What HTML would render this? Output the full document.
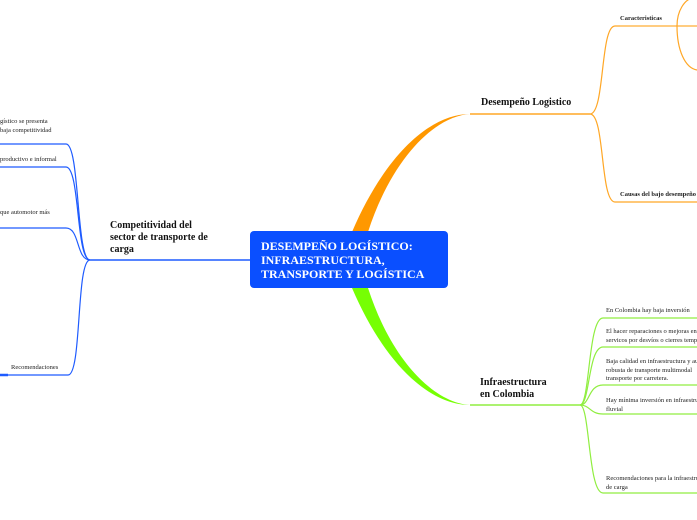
<!DOCTYPE html>
<html><head><meta charset="utf-8"><style>
html,body{margin:0;padding:0;background:#fff;width:697px;height:520px;overflow:hidden;position:relative;font-family:"Liberation Serif",serif;}
svg{position:absolute;left:0;top:0}
.t{position:absolute;font-size:6.5px;color:#222;line-height:8.5px;white-space:nowrap}
.b{position:absolute;font-weight:bold;color:#111;font-size:10px;line-height:12px}
</style></head><body>
<svg width="697" height="520" viewBox="0 0 697 520" fill="none">
<!-- orange -->
<path d="M352 232 C 385 155, 430 114, 470 114 C 435 116, 392 158, 368 232 Z" fill="#ff9800"/>
<path d="M470 114 L 590 114" stroke="#ffa726" stroke-width="1.5"/>
<path d="M590 114 C 605 114, 600 26, 615 26 L 697 26" stroke="#ffa726" stroke-width="1.2"/>
<path d="M590 114 C 605 114, 600 202, 615 202 L 697 202" stroke="#ffa726" stroke-width="1.2"/>
<path d="M620 26 L 697 26" stroke="#ffcc80" stroke-width="2"/>
<path d="M677 26 C 677 10, 685 0, 692 -2" stroke="#ffa726" stroke-width="1.2"/>
<path d="M677 26 C 677 50, 685 68, 697 70" stroke="#ffa726" stroke-width="1.2"/>
<!-- green -->
<path d="M352 288 C 385 365, 430 405, 470 405 C 435 403, 392 362, 368 288 Z" fill="#76ff03"/>
<path d="M470 405 L 580 405" stroke="#90ee40" stroke-width="1.5"/>
<path d="M580 405 C 590 405, 588 318, 603 318 L 697 318" stroke="#90ee40" stroke-width="1.2"/>
<path d="M580 405 C 590 405, 588 347, 603 347 L 697 347" stroke="#90ee40" stroke-width="1.2"/>
<path d="M580 405 C 590 405, 588 385, 603 385 L 697 385" stroke="#90ee40" stroke-width="1.2"/>
<path d="M580 405 C 590 405, 590 414, 603 414 L 697 414" stroke="#90ee40" stroke-width="1.2"/>
<path d="M580 405 C 590 405, 588 493, 603 493 L 697 493" stroke="#90ee40" stroke-width="1.2"/>
<!-- blue -->
<path d="M250 260 L 90 260" stroke="#1e5bff" stroke-width="1.5"/>
<path d="M90 260 C 76 260, 80 144, 66 144 L 0 144" stroke="#1e5bff" stroke-width="1.2"/>
<path d="M90 260 C 76 260, 80 167, 66 167 L 0 167" stroke="#1e5bff" stroke-width="1.2"/>
<path d="M90 260 C 76 260, 80 228, 66 228 L 0 228" stroke="#1e5bff" stroke-width="1.2"/>
<path d="M90 260 C 76 260, 82 375, 68 375 L 0 375" stroke="#1e5bff" stroke-width="1.2"/>
<path d="M0 375 L 8 375" stroke="#1e5bff" stroke-width="2.5"/>
<rect x="250" y="231" width="198" height="57" rx="4" fill="#0a4fff"/>
</svg>
<div class="b" style="left:261px;top:239px;color:#fff;font-size:12px;line-height:14px">DESEMPEÑO LOGÍSTICO:<br>INFRAESTRUCTURA,<br>TRANSPORTE Y LOGÍSTICA</div>
<div class="b" style="left:481px;top:97px">Desempeño Logistico</div>
<div class="b" style="left:480px;top:377px">Infraestructura<br>en Colombia</div>
<div class="b" style="left:110px;top:220px">Competitividad del<br>sector de transporte de<br>carga</div>
<div class="t" style="left:620px;top:15px;font-weight:bold">Caracteristicas</div>
<div class="t" style="left:620px;top:191px;font-weight:bold">Causas del bajo desempeño</div>
<div class="t" style="left:606px;top:307px">En Colombia hay baja inversión</div>
<div class="t" style="left:606px;top:328px">El hacer reparaciones o mejoras en<br>servicos por desvíos o cierres temporales</div>
<div class="t" style="left:606px;top:358px">Baja calidad en infraestructura y ausencia<br>robusta de transporte multimodal<br>transporte por carretera.</div>
<div class="t" style="left:606px;top:397px">Hay mínima inversión en infraestructura<br>fluvial</div>
<div class="t" style="left:606px;top:475px">Recomendaciones para la infraestructura<br>de carga</div>
<div class="t" style="left:0px;top:118px">gístico se presenta<br>baja competitividad</div>
<div class="t" style="left:0px;top:156px">productivo e informal</div>
<div class="t" style="left:0px;top:209px">que automotor más</div>
<div class="t" style="left:11px;top:364px">Recomendaciones</div>
</body></html>
